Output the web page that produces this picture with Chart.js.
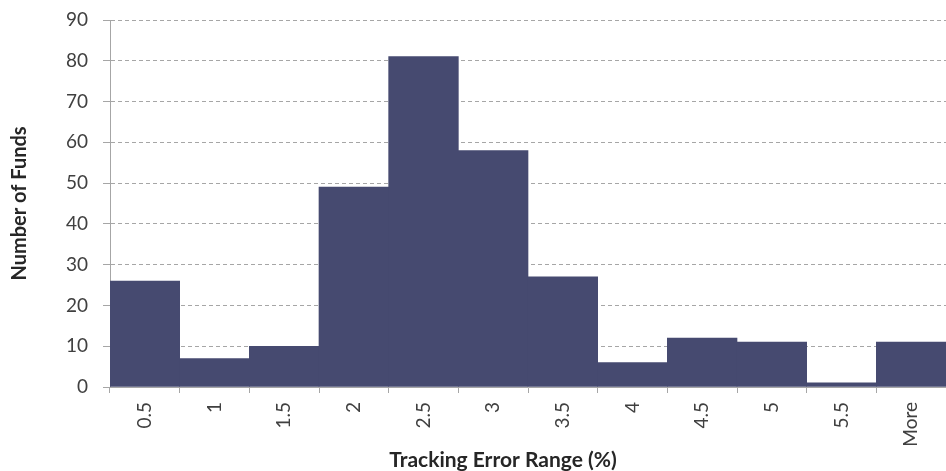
<!DOCTYPE html>
<html>
<head>
<meta charset="utf-8">
<script src="https://cdn.jsdelivr.net/npm/chart.js@4/dist/chart.umd.min.js"></script>
<style>
  html, body { margin: 0; padding: 0; background: #fff; }
  #wrap { width: 946px; height: 471px; position: relative; }
</style>
</head>
<body>
<div id="wrap"><canvas id="c" width="946" height="471"></canvas></div>
<script>
const categories = ["0.5", "1", "1.5", "2", "2.5", "3", "3.5", "4", "4.5", "5", "5.5", "More"];
const fundCounts = [26, 7, 10, 49, 81, 58, 27, 6, 12, 11, 1, 11];
const yTicks = [0, 10, 20, 30, 40, 50, 60, 70, 80, 90];
const xTitle = "Tracking Error Range (%)";
const yTitle = "Number of Funds";

const FONT = "Lato, 'Open Sans', sans-serif";

// Draws the x-axis title slightly left of the plot centre, as in the reference
const xTitlePlugin = {
  id: 'xTitlePlugin',
  afterDraw(chart) {
    const ctx = chart.ctx;
    ctx.save();
    ctx.font = "bold 21px " + FONT;
    ctx.fillStyle = '#262626';
    ctx.textAlign = 'center';
    ctx.textBaseline = 'middle';
    ctx.fillText(xTitle, 503, 460);
    ctx.restore();
  }
};

new Chart(document.getElementById('c'), {
  type: 'bar',
  data: {
    labels: categories,
    datasets: [{
      data: fundCounts,
      backgroundColor: '#464A70',
      borderWidth: 0,
      categoryPercentage: 1.0,
      barPercentage: 1.0
    }]
  },
  plugins: [xTitlePlugin],
  options: {
    responsive: false,
    animation: false,
    devicePixelRatio: 1,
    layout: { padding: { top: 20, right: 0, left: 0, bottom: 0 } },
    plugins: { legend: { display: false }, tooltip: { enabled: false } },
    scales: {
      x: {
        afterFit: s => { s.height = 84; s.paddingLeft = 0; s.paddingRight = 0; },
        grid: {
          display: true, drawOnChartArea: false, drawTicks: true,
          tickLength: 6, tickColor: '#a6a6a6', offset: true
        },
        border: { display: true, color: '#a6a6a6', width: 1 },
        ticks: {
          minRotation: 90, maxRotation: 90, padding: 9, autoSkip: false,
          color: '#404040', font: { family: FONT, size: 19 }
        },
        title: { display: false, text: xTitle }
      },
      y: {
        min: 0, max: 90,
        afterFit: s => { s.width = 110; s.paddingTop = 0; s.paddingBottom = 0; },
        afterBuildTicks: s => { s.ticks = yTicks.map(v => ({ value: v })); },
        grid: {
          color: '#a6a6a6', lineWidth: 1,
          drawTicks: true, tickLength: 7, tickColor: '#a6a6a6', tickBorderDash: [], tickWidth: 1
        },
        border: { display: true, color: '#a6a6a6', width: 1, dash: [4, 3] },
        ticks: {
          padding: 15, color: '#404040', font: { family: FONT, size: 19 }
        },
        title: {
          display: true, text: yTitle, color: '#262626',
          font: { family: FONT, size: 20, weight: 'bold' },
          padding: { top: 8, bottom: 4 }
        }
      }
    }
  }
});
</script>
</body>
</html>
